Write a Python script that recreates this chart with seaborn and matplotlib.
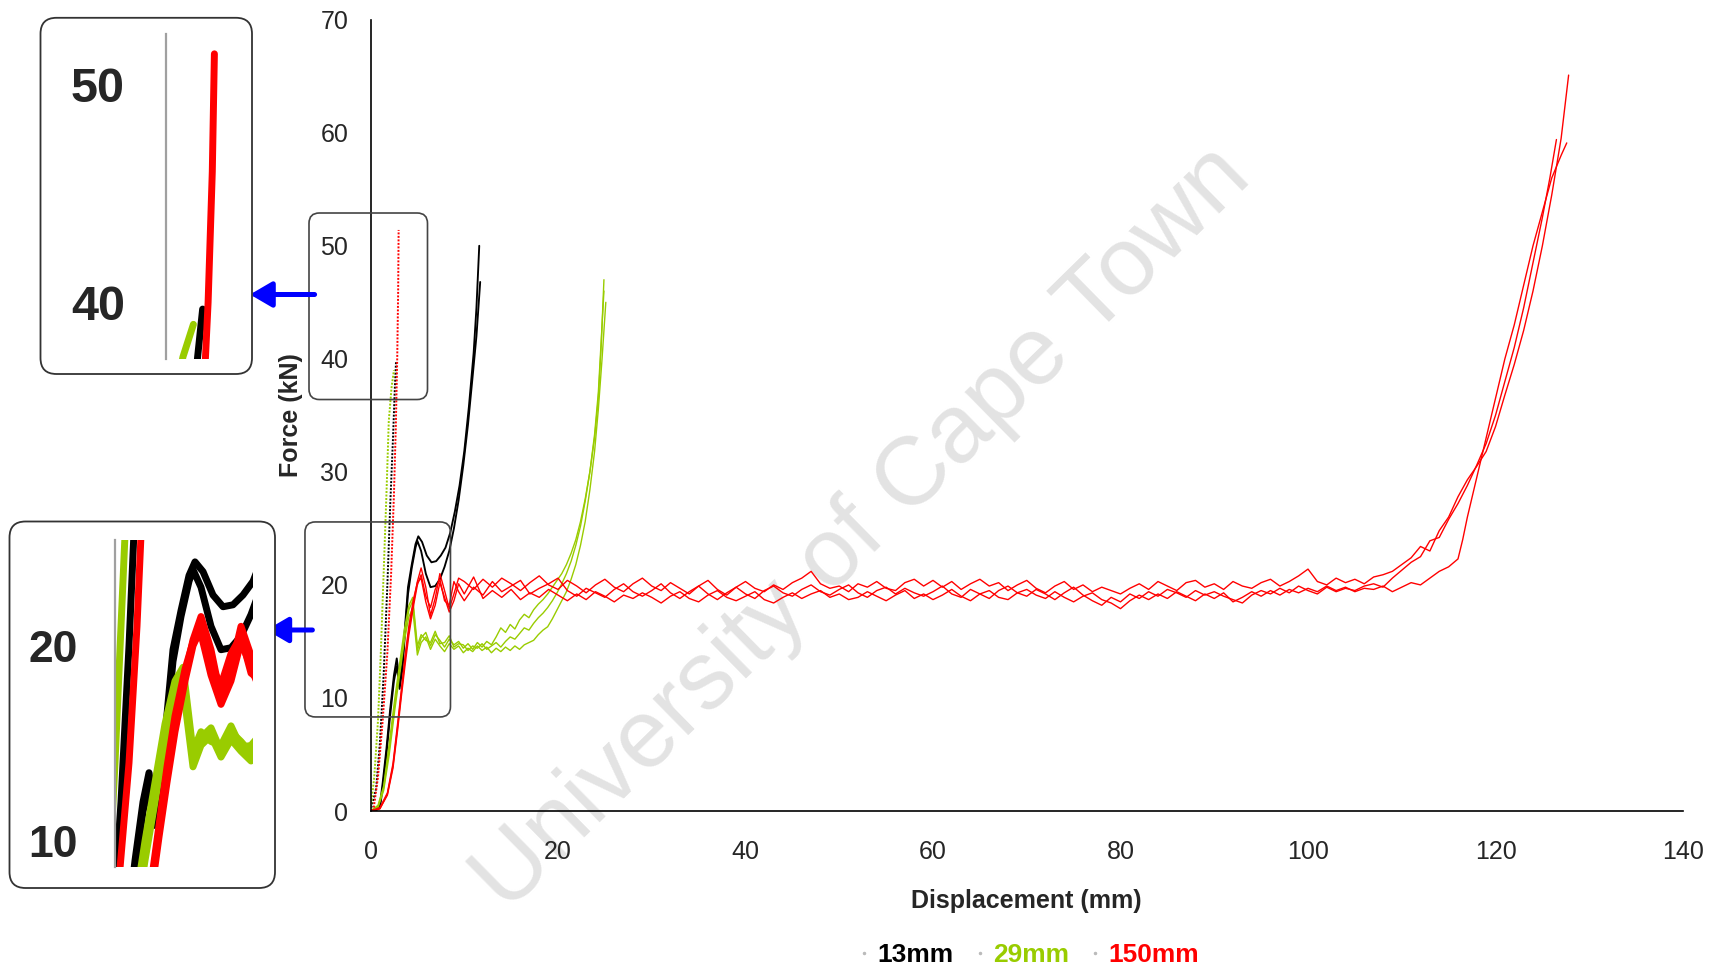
import matplotlib
matplotlib.use("Agg")
import matplotlib.pyplot as plt
from matplotlib.patches import FancyBboxPatch
from matplotlib.lines import Line2D
import seaborn as sns
import pandas as pd

# ---------------- data ----------------
series_names = ["13mm", "29mm", "150mm"]
series_colors = ["#000000", "#99cc00", "#ff0000"]

# 13 mm
blk1_x = [0, 0.5, 1.0, 1.3, 1.7, 2.1, 2.5, 2.8, 3.1, 3.4, 3.7, 4.0, 4.4, 4.8, 5.1, 5.5, 6.0, 6.5, 7.0, 7.5,
          8.0, 8.5, 9.0, 9.5, 10.0, 10.5, 11.0, 11.3, 11.6]
blk1_y = [0, 0, 0.5, 2.5, 5.5, 9.0, 12.0, 13.5, 11.5, 13.0, 16.5, 19.8, 21.8, 23.6, 24.3, 23.8, 22.6, 22.0, 22.1, 22.6,
          23.3, 24.6, 26.5, 28.8, 31.8, 35.8, 40.5, 44.5, 50.0]
blk2_x = [0, 0.5, 1.0, 1.3, 1.7, 2.1, 2.5, 2.8, 3.1, 3.4, 3.7, 4.0, 4.4, 4.8, 5.0, 5.4, 5.9, 6.4, 6.9, 7.4,
          7.9, 8.4, 8.9, 9.4, 9.9, 10.4, 10.9, 11.3, 11.7]
blk2_y = [0, 0, 0.3, 2.0, 5.0, 8.5, 11.5, 12.8, 10.8, 12.5, 16.0, 19.2, 21.5, 23.3, 23.9, 23.0, 21.0, 19.8, 19.9, 20.5,
          21.6, 23.0, 25.0, 27.5, 30.6, 34.2, 38.5, 42.0, 46.8]
blk_steep_x = [0, 0.6, 1.0, 1.4, 1.8, 2.1, 2.4, 2.6, 2.72]
blk_steep_y = [0, 2.0, 6.0, 12.0, 20.0, 27.0, 33.0, 37.5, 39.7]

# 29 mm
grn_x_a = [0, 0.8, 1.4, 2.0, 2.6, 3.1, 3.6, 4.1, 4.5, 5.0, 5.4, 5.9, 6.4, 6.9, 7.4, 7.9, 8.4, 8.9, 9.4, 9.9,
           10.4, 10.9, 11.4, 11.9, 12.4, 12.9, 13.4, 13.9, 14.4, 14.9, 15.4, 15.9, 16.4, 16.9, 17.4, 17.9, 18.4, 18.9,
           19.4, 19.9, 20.4, 20.9, 21.4, 21.9, 22.4, 22.9, 23.4, 23.9, 24.3, 24.6, 24.9]
grn_x_b = [0, 0.8, 1.4, 2.0, 2.6, 3.1, 3.6, 4.1, 4.5, 5.0, 5.4, 5.9, 6.4, 6.9, 7.4, 7.9, 8.4, 8.9, 9.4, 9.9,
           10.4, 10.9, 11.4, 11.9, 12.4, 12.9, 13.4, 13.9, 14.4, 14.9, 15.4, 15.9, 16.4, 16.9, 17.4, 17.9, 18.4, 18.9,
           19.4, 19.9, 20.4, 20.9, 21.4, 21.9, 22.4, 22.9, 23.4, 23.9, 24.3, 24.7, 25.1]
grn1_y = [0, 0.4, 2.0, 5.5, 9.5, 12.5, 15.5, 17.8, 18.6, 14.2, 15.3, 15.8, 14.6, 15.6, 15.1, 14.5, 15.2, 14.7, 15.0, 14.4,
          14.8, 14.3, 14.9, 14.5, 15.0, 14.7, 15.4, 16.2, 15.8, 16.5, 16.1, 16.9, 17.4, 17.1, 17.8, 18.3, 18.7, 19.2,
          19.8, 20.4, 21.0, 21.8, 22.8, 24.0, 25.6, 27.6, 30.0, 33.0, 36.5, 41.0, 47.0]
grn2_y = [0, 0.3, 1.8, 5.0, 9.0, 12.0, 15.0, 17.2, 17.9, 13.8, 14.9, 15.4, 14.3, 15.2, 14.6, 14.1, 14.8, 14.3, 14.6, 14.0,
          14.4, 14.1, 14.6, 14.2, 14.5, 14.0, 14.4, 14.1, 14.5, 14.2, 14.6, 14.3, 14.7, 14.9, 15.1, 15.6, 16.0, 16.3,
          17.0, 17.8, 18.6, 19.4, 20.5, 21.8, 23.5, 25.6, 28.4, 31.8, 35.5, 40.0, 45.0]
grn3_y = [0, 0.5, 2.2, 6.0, 10.0, 13.0, 16.0, 18.2, 18.9, 14.6, 15.6, 15.1, 14.9, 15.9, 14.8, 14.9, 15.5, 14.5, 14.8, 14.7,
          14.2, 14.6, 14.4, 14.8, 14.3, 14.6, 14.9, 14.5, 15.0, 15.4, 15.2, 15.7, 16.2, 16.0, 16.6, 17.1, 17.5, 18.0,
          18.6, 19.3, 20.1, 21.0, 22.1, 23.5, 25.2, 27.4, 30.0, 33.3, 37.0, 41.5, 46.0]
grn_steep_x = [0, 0.4, 0.8, 1.1, 1.4, 1.7, 1.95, 2.25, 2.5]
grn_steep_y = [0, 3.0, 8.0, 14.0, 21.0, 28.0, 34.5, 37.5, 39.0]

# 150 mm
red_early_x = [0, 1.0, 1.8, 2.4, 2.9, 3.3, 3.7, 4.1, 4.6, 5.0, 5.4, 5.9, 6.4, 6.9, 7.4, 7.9, 8.4, 8.9, 9.4]
red1_early_y = [0, 0.2, 1.5, 4.0, 7.5, 10.5, 13.5, 16.0, 18.5, 20.3, 21.5, 19.8, 17.3, 18.8, 21.0, 19.5, 17.9, 19.2, 20.6]
red2_early_y = [0, 0.2, 1.4, 3.8, 7.2, 10.2, 13.0, 15.6, 18.2, 20.0, 20.9, 19.0, 18.0, 19.6, 20.5, 18.6, 18.2, 20.3, 19.4]
red3_early_y = [0, 0.3, 1.6, 4.2, 7.8, 10.8, 13.8, 16.4, 18.8, 20.2, 20.6, 18.5, 17.0, 18.2, 20.2, 18.9, 17.6, 18.6, 20.1]

red_mid_x = list(range(10, 109))
red1_mid_y = [20.3, 19.6, 20.5, 19.8, 20.6, 20.1, 19.5, 20.2, 20.8, 20.0,
              19.6, 20.4, 19.9, 19.3, 20.0, 20.5, 19.8, 19.4, 20.1, 20.6,
              19.9, 19.5, 20.2, 19.7, 19.2, 19.9, 20.4, 19.6, 19.1, 19.8,
              20.3, 19.7, 19.4, 20.0, 19.6, 20.2, 20.6, 21.2, 20.1, 19.7,
              19.9, 19.4, 20.1, 19.8, 20.3, 19.7, 19.5, 20.2, 20.5, 19.9,
              20.4, 19.8, 20.3, 19.6, 20.1, 20.5, 19.9, 20.2, 19.5, 20.0,
              20.4, 19.7, 19.3, 19.9, 20.3, 19.6, 20.0, 19.4, 19.8, 19.5,
              19.2, 19.7, 20.1, 19.6, 20.3, 19.9, 19.5, 20.2, 20.4, 19.8,
              20.1, 19.6, 20.3, 19.9, 19.7, 20.2, 20.5, 19.9, 20.3, 20.8,
              21.4, 20.3, 20.0, 20.6, 20.2, 20.5, 20.1, 20.7, 20.9]
red2_mid_y = [18.6, 19.8, 19.1, 20.3, 19.4, 19.9, 20.4, 19.2, 19.7, 20.1,
              20.6, 19.5, 19.0, 19.7, 19.3, 18.9, 19.6, 20.1, 19.4, 19.0,
              19.5, 20.1, 19.3, 18.8, 19.4, 19.9, 19.2, 18.7, 19.3, 19.8,
              19.2, 18.8, 19.5, 19.9, 19.3, 19.0, 19.6, 20.0, 19.4, 19.1,
              19.6, 20.0, 19.3, 18.9, 19.5, 19.8, 19.2, 19.7, 19.3, 19.0,
              19.4, 19.9, 19.2, 18.9, 19.6, 19.2, 18.8, 19.5, 19.9, 19.3,
              19.0, 19.6, 19.2, 18.7, 19.3, 19.8, 19.1, 18.6, 18.2, 18.9,
              18.5, 19.2, 18.8, 19.4, 19.0, 19.6, 19.3, 18.9, 19.5, 19.1,
              19.4, 19.0, 18.7, 18.4, 19.1, 19.5, 19.2, 19.7, 19.3, 19.9,
              19.5, 19.2, 19.8, 19.4, 19.7, 19.5, 19.9, 20.1, 19.8]
red3_mid_y = [19.2, 20.7, 18.8, 19.5, 18.9, 19.6, 18.7, 19.3, 18.9, 19.6,
              19.1, 18.6, 19.2, 18.7, 19.4, 19.0, 18.5, 19.1, 18.8, 19.3,
              18.9, 18.4, 19.0, 19.4, 18.8, 18.5, 19.1, 19.5, 18.9, 18.6,
              19.0, 19.4, 18.7, 18.4, 18.9, 19.3, 18.8, 19.2, 19.5, 18.9,
              19.2, 18.7, 18.9, 19.4, 19.0, 18.6, 19.1, 19.5, 18.8, 19.2,
              18.7, 19.1, 19.6, 19.0, 18.6, 19.2, 19.5, 18.9, 18.7, 19.3,
              19.6, 19.1, 18.8, 19.4, 18.9, 18.5, 19.0, 19.3, 18.7, 18.4,
              17.9, 18.6, 19.1, 18.7, 19.2, 18.8, 19.4, 19.0, 18.6, 19.2,
              18.8, 19.3, 18.5, 18.9, 19.4, 19.0, 19.5, 19.1, 19.6, 19.3,
              19.7, 19.4, 19.9, 19.5, 19.8, 19.4, 19.7, 19.6, 19.9]

red1_rise_x = [109, 110, 111, 112, 113, 114, 115, 116, 117, 118, 119, 120, 121, 122, 123, 124, 125, 126, 127, 127.8]
red1_rise_y = [21.2, 21.8, 22.4, 23.4, 23.0, 24.8, 26.0, 27.8, 29.3, 30.5, 31.8, 34.0, 36.8, 39.5, 42.5, 46.0, 50.0,
               54.5, 59.5, 65.1]
red2_rise_x = [109, 110, 111, 112, 113, 114, 115, 116, 117, 118, 119, 120, 121, 122, 123, 124, 125, 125.8, 126.5]
red2_rise_y = [20.6, 21.3, 22.0, 22.5, 23.9, 24.2, 25.8, 27.2, 28.8, 30.6, 32.5, 35.0, 38.0, 41.0, 44.5, 48.5, 52.5,
               56.0, 59.4]
red3_rise_x = [109, 110, 111, 112, 113, 114, 115, 116, 116.5, 117, 118, 119, 120, 121, 122, 123, 124, 125, 126, 127,
               127.6]
red3_rise_y = [19.4, 19.8, 20.2, 20.0, 20.6, 21.2, 21.6, 22.3, 24.0, 26.0, 29.5, 33.0, 36.5, 40.0, 43.0, 46.5, 50.0,
               53.0, 56.0, 58.0, 59.1]
red_steep_x = [0.3, 0.8, 1.3, 1.8, 2.2, 2.5, 2.7, 2.85, 2.95, 3.0]
red_steep_y = [0, 3.0, 8.0, 14.0, 21.0, 28.0, 34.0, 40.0, 46.0, 51.4]

# ---------------- assemble runs ----------------
runs = [
    ("13mm", blk1_x, blk1_y, "solid"),
    ("13mm", blk2_x, blk2_y, "solid"),
    ("13mm", blk_steep_x, blk_steep_y, "steep"),
    ("29mm", grn_x_a, grn1_y, "solid"),
    ("29mm", grn_x_b, grn2_y, "solid"),
    ("29mm", grn_x_a, grn3_y, "solid"),
    ("29mm", grn_steep_x, grn_steep_y, "steep"),
    ("150mm", red_early_x + red_mid_x + red1_rise_x, red1_early_y + red1_mid_y + red1_rise_y, "solid"),
    ("150mm", red_early_x + red_mid_x + red2_rise_x, red2_early_y + red2_mid_y + red2_rise_y, "solid"),
    ("150mm", red_early_x + red_mid_x + red3_rise_x, red3_early_y + red3_mid_y + red3_rise_y, "solid"),
    ("150mm", red_steep_x, red_steep_y, "steep"),
]
color_of = dict(zip(series_names, series_colors))

# ---------------- style ----------------
sns.set_style("white")
plt.rcParams["font.family"] = ["Liberation Sans", "DejaVu Sans"]

W, H = 1719, 971
fig = plt.figure(figsize=(W / 100, H / 100), dpi=100)
fig.patch.set_facecolor("white")


def fx(px):
    return px / W


def fy(py):
    return 1 - py / H


ax = fig.add_axes([fx(370.5), fy(811), fx(1683 - 370.5), (811 - 19.7) / H])
ax.set_facecolor("none")


def draw_runs(target, lw_solid, lw_steep, inset=False):
    for name, xs, ys, kind in runs:
        df = pd.DataFrame({"Displacement": xs, "Force": ys})
        lw = lw_solid
        if name == "13mm" and not inset:
            lw = lw_solid * 1.35
        if kind == "steep" and not inset:
            sns.lineplot(data=df, x="Displacement", y="Force", ax=target, color=color_of[name],
                         sort=False, estimator=None, lw=lw_steep, linestyle=(0, (1, 0.8)))
        else:
            sns.lineplot(data=df, x="Displacement", y="Force", ax=target, color=color_of[name],
                         sort=False, estimator=None, lw=lw)


draw_runs(ax, 1.0, 1.4)

ax.set_xlim(0, 140)
ax.set_ylim(0, 70)
ax.set_xticks([0, 20, 40, 60, 80, 100, 120, 140])
ax.set_yticks([0, 10, 20, 30, 40, 50, 60, 70])
for s in ["top", "right"]:
    ax.spines[s].set_visible(False)
for s in ["left", "bottom"]:
    ax.spines[s].set_color("black")
    ax.spines[s].set_linewidth(1.2)
ax.tick_params(axis="both", direction="out", length=6, width=1.1, color="black", labelsize=18)
ax.tick_params(axis="y", pad=10)
ax.tick_params(axis="x", pad=15)
ax.set_xlabel("Displacement (mm)", fontsize=18, fontweight="bold")
ax.set_ylabel("Force (kN)", fontsize=18, fontweight="bold")
ax.xaxis.set_label_coords(0.5, -0.098)
ax.yaxis.set_label_coords(-0.0515, 0.5)

# zoom regions marked on the main chart (data coords)
zoom_regions = [(-6.56, 36.4, 12.64, 16.5), (-6.99, 8.32, 15.52, 17.25)]
for (x0, y0, w, h) in zoom_regions:
    ax.add_patch(FancyBboxPatch((x0, y0), w, h, boxstyle="round,pad=0,rounding_size=1.1",
                                mutation_aspect=0.83, transform=ax.transData, clip_on=False,
                                fill=False, ec="#444444", lw=1.2, zorder=5))

# ---------------- inset boxes ----------------
inset_boxes = [(0.405, 5.97, 2.115, 3.562), (0.095, 0.83, 2.655, 3.665)]
for (x0, y0, w, h) in inset_boxes:
    fig.add_artist(FancyBboxPatch((x0, y0), w, h, boxstyle="round,pad=0,rounding_size=0.16",
                                  transform=fig.dpi_scale_trans, fc="white", ec="#333333", lw=1.3,
                                  zorder=1))

ins1 = fig.add_axes([fx(165.7), fy(358.8), fx(240 - 165.7), (358.8 - 34.4) / H], zorder=2)
ins2 = fig.add_axes([fx(115), fy(866.8), fx(253 - 115), (866.8 - 539.6) / H], zorder=2)
inset_cfg = [
    (ins1, (1.84, 3.61), (37.42, 52.29), [40, 50], 35, 11.3, 18),
    (ins2, (1.1, 8.0), (8.68, 25.44), [10, 20], 32, 10.8, 16),
]
for iax, xl, yl, yt, fs, tl, pd_ in inset_cfg:
    iax.set_facecolor("none")
    draw_runs(iax, 5.0, 5.0, inset=True)
    iax.set_xlim(*xl)
    iax.set_ylim(*yl)
    iax.set_xticks([])
    iax.set_yticks(yt)
    iax.set_xlabel("")
    iax.set_ylabel("")
    for s in ["top", "right", "bottom"]:
        iax.spines[s].set_visible(False)
    iax.spines["left"].set_color("#a0a0a0")
    iax.spines["left"].set_linewidth(1.6)
    iax.tick_params(axis="y", direction="out", length=tl, width=1.3, color="#a0a0a0",
                    labelsize=fs, pad=pd_)
    for lab in iax.get_yticklabels():
        lab.set_fontweight("bold")

# blue arrows
arrows = [((314.6, H - 294.5), (250, H - 294.5)), ((312.4, H - 630), (266.4, H - 630))]
for tail, tip in arrows:
    ax.annotate("", xy=tip, xytext=tail, xycoords="figure pixels", textcoords="figure pixels",
                arrowprops=dict(arrowstyle="-|>,head_length=0.6,head_width=0.35", color="#0000ff",
                                lw=3.6, mutation_scale=22, shrinkA=0, shrinkB=0), zorder=6)

# legend
handles = [Line2D([], [], color="#bbbbbb", lw=0, marker=".", markersize=3) for _ in series_names]
leg = fig.legend(handles, series_names, loc="center", bbox_to_anchor=(0.5986, 0.0165), ncol=3,
                 frameon=False, prop={"weight": "bold", "size": 19}, handlelength=0.4,
                 handletextpad=0.3, columnspacing=0.8)
for t, c in zip(leg.get_texts(), series_colors):
    t.set_color(c)

# watermark
fig.text(0.502, 0.455, "University of Cape Town", rotation=44.5, fontsize=70, color="#e3e3e3",
         ha="center", va="center", rotation_mode="anchor", zorder=-1)

fig.savefig("out.png", dpi=100, facecolor="white")
